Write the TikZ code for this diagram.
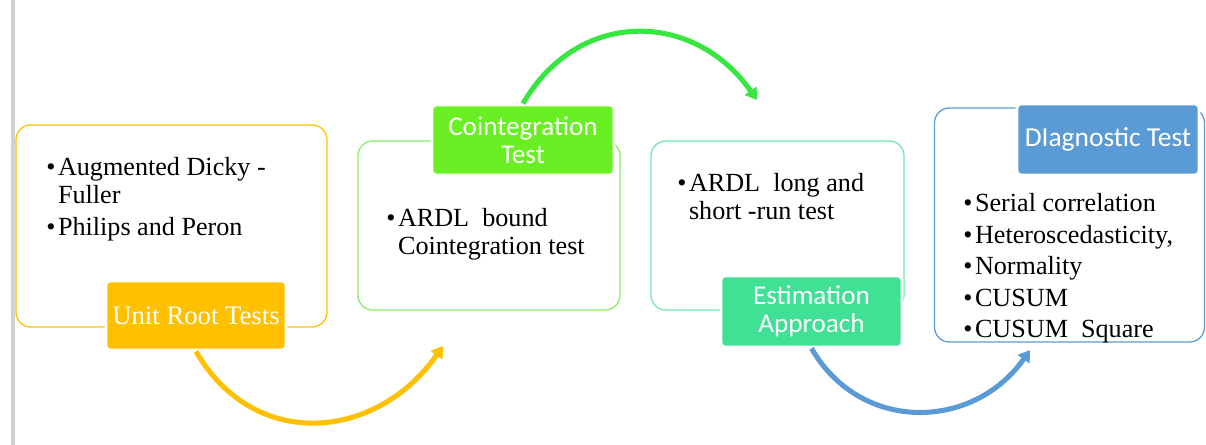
\documentclass[tikz,border=0pt]{standalone}
\usepackage{fontspec}
\setmainfont{Liberation Serif}
\newfontfamily\tagfont{Carlito}
\usetikzlibrary{arrows.meta}
\definecolor{urtgold}{HTML}{FFC000}
\definecolor{cointline}{HTML}{86EE66}
\definecolor{cointfill}{HTML}{6AEF24}
\definecolor{estline}{HTML}{6FE6AE}
\definecolor{estfill}{HTML}{40E095}
\definecolor{diagblue}{HTML}{5B9BD5}
\definecolor{arrowgreen}{HTML}{38E640}
\newcommand{\bul}{\makebox[0.45em][l]{\textbullet}}
\newcommand{\ind}{\hspace*{0.45em}}

\begin{document}
\begin{tikzpicture}[x=0.025cm, y=0.025cm,
  panel/.style={rectangle, draw, rounded corners=0.375cm, line width=0.9pt},
  tag/.style={rectangle, draw=white, line width=2pt, rounded corners=0.1cm,
  text=white, align=center, inner sep=0pt},
  items/.style={anchor=north west, align=left, inner sep=0pt,
  font=\fontsize{18.6}{20}\selectfont},
  flow/.style={line width=3.6pt, -{Triangle[length=8pt,width=10pt]}}]
  \useasboundingbox (0,0) rectangle (1206,-445);
  \draw[black!18, line width=2.2pt] (13,0) -- (13,-445);

  \node[panel, draw=urtgold, minimum width=7.775cm, minimum height=5.05cm] (unitbox) at (171.5,-226) {};
  \node[panel, draw=cointline, minimum width=6.55cm, minimum height=4.225cm] (cointbox) at (489,-225.5) {};
  \node[panel, draw=estline, minimum width=6.325cm, minimum height=4.225cm] (estbox) at (777.5,-225.5) {};
  \node[panel, draw=diagblue, minimum width=6.75cm, minimum height=5.85cm] (diagbox) at (1069.5,-225) {};

  \node[items] (unititems) at (46,-157) {\bul Augmented Dicky -\\ \ind Fuller\\[3pt] \bul Philips and Peron};
  \node[items] (cointitems) at (386,-208) {\bul ARDL\ \ bound\\ \ind Cointegration test};
  \node[items] (estitems) at (677,-173) {\bul ARDL\ \ long and\\ \ind short -run test};
  \node[items] (diagitems) at (963,-193) {\bul Serial correlation\\[2.5pt] \bul Heteroscedasticity,\\[2.5pt]
    \bul Normality\\[2.5pt] \bul CUSUM\\[2.5pt] \bul CUSUM\ \ Square};

  \coordinate (unitend) at (443,-346);
  \coordinate (cointend) at (757,-100);
  \coordinate (estend) at (1030,-350);

  \node[tag, fill=urtgold, minimum width=4.5cm, minimum height=1.725cm,
    font=\fontsize{19}{20}\selectfont] (unit) at (196,-315.5) {Unit Root Tests};
  \node[tag, fill=cointfill, minimum width=4.55cm, minimum height=1.75cm,
    font=\tagfont\fontsize{19.3}{20}\selectfont] (coint) at (523,-140) {Cointegration\\Test};
  \node[tag, fill=estfill, minimum width=4.525cm, minimum height=1.775cm,
    font=\tagfont\fontsize{19.3}{20}\selectfont] (est) at (811.5,-311.5) {Estimation\\Approach};
  \node[tag, fill=diagblue, minimum width=4.55cm, minimum height=1.775cm,
    font=\tagfont\fontsize{19.5}{20}\selectfont] (diag) at (1108,-139.5) {DIagnostic Test};

  \draw[flow, urtgold] (unit.south) to[out=-60, in=-125, looseness=1.2] (unitend);
  \draw[flow, arrowgreen] (coint.north) to[out=60, in=125, looseness=1.2] (cointend);
  \draw[flow, diagblue] (est.south) to[out=-60, in=-125, looseness=1.15] (estend);
\end{tikzpicture}
\end{document}
